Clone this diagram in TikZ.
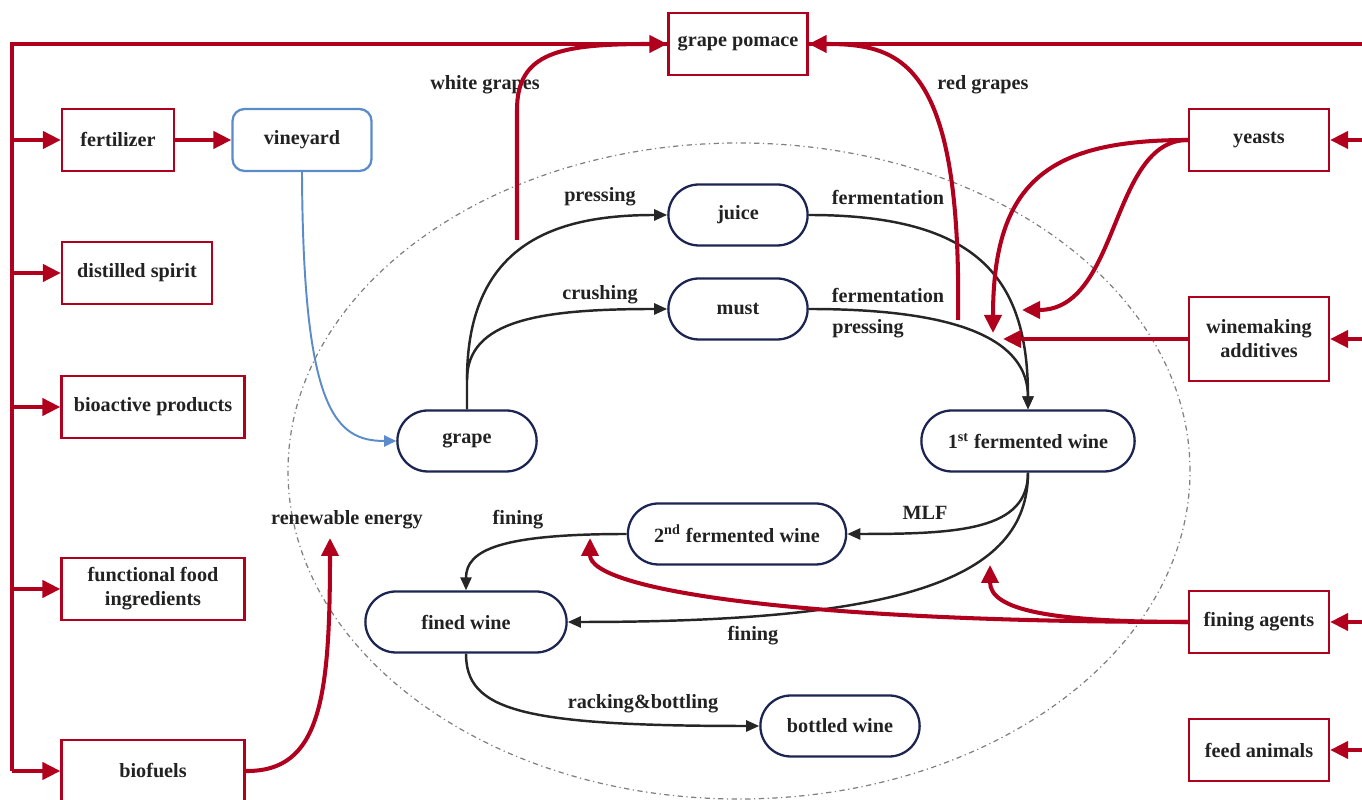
\documentclass[tikz,border=0pt]{standalone}
\usepackage{fontspec}
\setmainfont{Liberation Serif}
\usetikzlibrary{arrows.meta,shapes.misc}
\definecolor{wred}{HTML}{B0001E}
\definecolor{wnavy}{HTML}{1C2452}
\definecolor{wblue}{HTML}{5B8BC9}
\definecolor{wtext}{HTML}{222222}
\begin{document}
\begin{tikzpicture}[x=0.02cm,y=0.02cm,font=\fontsize{11.5}{13.6}\selectfont\bfseries,text=wtext,
  rbox/.style={draw=wred,line width=1.3pt,minimum height=1.24cm,align=center,inner sep=2pt},
  pill/.style={rounded rectangle,draw=wnavy,line width=1.3pt,minimum height=1.22cm},
  rline/.style={wred,line width=2.3pt},
  rarr/.style={rline,-{Triangle[length=3.6mm,width=3.4mm]}},
  flow/.style={black!85,line width=1.4pt,-{Triangle[length=2.6mm,width=2.2mm]}}]
    \useasboundingbox (0,0) rectangle (1362,800);
    \coordinate (ledge) at (12,0);
    \coordinate (redge) at (1362,0);
    \draw[gray,line width=0.7pt,dash dot] (739,329) ellipse [x radius=451, y radius=328];
%   side products and inputs
    \node[rbox,minimum width=2.78cm] (pomace) at (738,756) {grape pomace};
    \node[rbox,minimum width=2.24cm] (fert) at (118,660) {fertilizer};
    \node[draw=wblue,line width=1.3pt,rounded corners=2.4mm,minimum width=2.78cm,minimum height=1.24cm] (vine) at (302,660) {vineyard};
    \node[rbox,minimum width=3cm] (spirit) at (137,527) {distilled spirit};
    \node[rbox,minimum width=3.66cm] (bioact) at (153,393) {bioactive products};
    \node[rbox,minimum width=3.66cm] (funcfood) at (153,211) {functional food\\ingredients};
    \node[rbox,minimum width=3.66cm] (biofuel) at (153,29) {biofuels};
    \node[rbox,minimum width=2.8cm] (yeast) at (1259,660) {yeasts};
    \node[rbox,minimum width=2.8cm,minimum height=1.68cm] (additive) at (1259,461) {winemaking\\additives};
    \node[rbox,minimum width=2.8cm] (agent) at (1259,178) {fining agents};
    \node[rbox,minimum width=2.8cm] (feed) at (1259,50) {feed animals};
%   wine
    \node[pill,minimum width=3.02cm] (juice) at (738,585) {juice};
    \node[pill,minimum width=3.02cm] (must) at (738,491) {must};
    \node[pill,minimum width=3.02cm] (grape) at (467,359) {grape};
    \node[pill,minimum width=4.5cm] (first) at (1028,359) {1\textsuperscript{st} fermented wine};
    \node[pill,minimum width=4.6cm] (second) at (737,266) {2\textsuperscript{nd} fermented wine};
    \node[pill,minimum width=4.26cm] (fined) at (466,178) {fined wine};
    \node[pill,minimum width=3.42cm] (bottled) at (840,74) {bottled wine};
%   labels
    \node (lpress) at (600,603) {pressing};
    \node (lcrush) at (600,505) {crushing};
    \node (lferm1) at (888,603) {fermentation};
    \node (lferm2) at (888,505) {fermentation};
    \node (lpress2) at (868,471) {pressing};
    \node (lwhite) at (485,715) {white grapes};
    \node (lred) at (983,715) {red grapes};
    \node (lmlf) at (925,287) {MLF};
    \node (lfin1) at (518,280) {fining};
    \node (lfin2) at (753,164) {fining};
    \node (lrack) at (643,96) {racking\&bottling};
    \node (lrenew) at (347,280) {renewable energy};
%   process
    \coordinate (gsplit) at (467,420);
    \draw[flow] (grape.north) -- (gsplit) .. controls (467,560) and (560,585) .. (juice.west);
    \draw[flow] (gsplit) .. controls (467,480) and (540,491) .. (must.west);
    \draw[flow] (juice.east) .. controls (980,585) and (1028,520) .. (first.north);
    \draw[flow] (must.east) .. controls (960,491) and (1028,460) .. (first.north);
    \draw[flow] (first.south) .. controls (1028,270) and (960,266) .. (second.east);
    \draw[flow] (first.south) .. controls (1028,220) and (900,178) .. (fined.east);
    \draw[flow] (second.west) .. controls (500,266) and (466,250) .. (fined.north);
    \draw[flow] (fined.south) .. controls (466,90) and (520,74) .. (bottled.west);
    \draw[wblue,line width=1.1pt,-{Triangle[length=2.4mm,width=2.2mm]}] (vine.south) .. controls (303,390) and (335,359) .. (grape.west);
%   red flows
    \draw[rarr] (fert) -- (vine);
    \coordinate (wg) at (517,560);
    \coordinate (rg) at (958,480);
    \draw[rline] (pomace.west) -- (pomace.west -| ledge) -- (biofuel.west -| ledge);
    \draw[rline] (pomace.east) -- (pomace.east -| redge);
    \draw[rarr] (wg) -- (517,690) .. controls (517,748) and (560,756) .. (pomace.west);
    \draw[rarr] (rg) .. controls (962,740) and (900,756) .. (pomace.east);
    \foreach \n in {fert,spirit,bioact,funcfood,biofuel}
    \draw[rarr] (\n.west -| ledge) -- (\n.west);
    \foreach \n in {yeast,additive,agent,feed}
    \draw[rarr] (\n.east -| redge) -- (\n.east);
    \coordinate (y1) at (993,467);
    \coordinate (y2) at (1022,490);
    \coordinate (ad) at (1003,461);
    \draw[rarr] (yeast.west) .. controls (1050,660) and (993,620) .. (y1);
    \draw[rarr] (yeast.west) .. controls (1110,660) and (1120,490) .. (y2);
    \draw[rarr] (additive.west) -- (ad);
    \coordinate (fa1) at (590,262);
    \coordinate (fa2) at (990,235);
    \draw[rarr] (agent.west) .. controls (800,178) and (590,210) .. (fa1);
    \draw[rarr] (agent.west) .. controls (1050,178) and (990,190) .. (fa2);
    \coordinate (re) at (330,262);
    \draw[rarr] (biofuel.east) .. controls (320,28) and (330,100) .. (re);
\end{tikzpicture}
\end{document}
